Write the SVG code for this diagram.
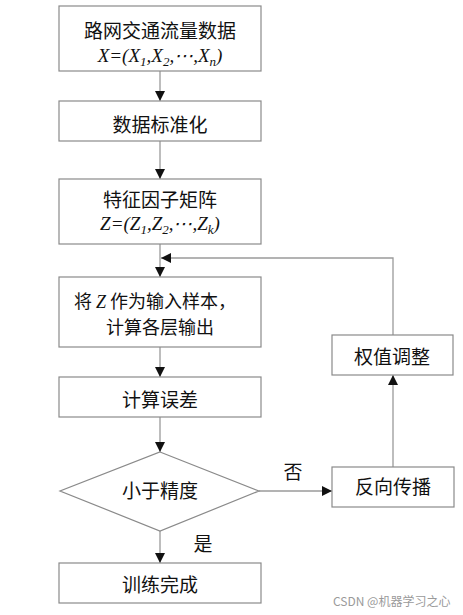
<svg xmlns="http://www.w3.org/2000/svg" width="463" height="615" viewBox="0 0 463 615">
<defs>
<marker id="ah" viewBox="0 0 10 10" refX="10" refY="5" markerWidth="10" markerHeight="10" markerUnits="userSpaceOnUse" orient="auto">
<path d="M0,0 L10,5 L0,10 z" fill="#111"/>
</marker>
<style>
.box{fill:#fff;stroke:#8a8a8a;stroke-width:1.2}
.t{font-family:"Noto Sans CJK SC","Liberation Serif",serif;font-size:19px;fill:#111;text-anchor:middle}
.s18{font-size:18px}
.m{font-family:"Liberation Serif",serif;font-style:italic;font-size:19px;fill:#111;text-anchor:middle}
.sub{font-size:13px}
.c{fill:none;stroke:#9a9a9a;stroke-width:1.3}
.wm{font-family:"Noto Sans CJK SC","Liberation Sans",sans-serif;font-size:12px;fill:#9a9a9a}
</style>
</defs>
<rect width="463" height="615" fill="#fff"/>
<g id="connectors">
<line class="c" x1="160" y1="71" x2="160" y2="101" marker-end="url(#ah)"/>
<line class="c" x1="160" y1="141" x2="160" y2="179" marker-end="url(#ah)"/>
<line class="c" x1="160" y1="244" x2="160" y2="277" marker-end="url(#ah)"/>
<line class="c" x1="160" y1="347" x2="160" y2="377" marker-end="url(#ah)"/>
<line class="c" x1="160" y1="417" x2="160" y2="452" marker-end="url(#ah)"/>
<line class="c" x1="160" y1="531" x2="160" y2="563" marker-end="url(#ah)"/>
<line class="c" x1="259" y1="491" x2="332" y2="491" marker-end="url(#ah)"/>
<line class="c" x1="393" y1="467" x2="393" y2="375" marker-end="url(#ah)"/>
<polyline class="c" points="393,335 393,258 161,258" marker-end="url(#ah)"/>
<text class="t" x="293" y="479">否</text>
<text class="t" x="203" y="551">是</text>
</g>
<g id="n1">
<rect class="box" x="59" y="6" width="202" height="65"/>
<text class="t" x="160" y="38">路网交通流量数据</text>
<text class="m" x="160" y="62">X=(X<tspan class="sub" dy="4">1</tspan><tspan dy="-4">,X</tspan><tspan class="sub" dy="4">2</tspan><tspan dy="-4">,⋯,X</tspan><tspan class="sub" dy="4">n</tspan><tspan dy="-4">)</tspan></text>
</g>
<g id="n2">
<rect class="box" x="59" y="101" width="202" height="40"/>
<text class="t" x="160" y="132">数据标准化</text>
</g>
<g id="n3">
<rect class="box" x="59" y="179" width="202" height="65"/>
<text class="t" x="160" y="207">特征因子矩阵</text>
<text class="m" x="160" y="230">Z=(Z<tspan class="sub" dy="4">1</tspan><tspan dy="-4">,Z</tspan><tspan class="sub" dy="4">2</tspan><tspan dy="-4">,⋯,Z</tspan><tspan class="sub" dy="4">k</tspan><tspan dy="-4">)</tspan></text>
</g>
<g id="n4">
<rect class="box" x="59" y="277" width="202" height="70"/>
<text class="t s18" x="155" y="308">将 <tspan font-family="Liberation Serif" font-style="italic">Z</tspan> 作为输入样本，</text>
<text class="t s18" x="160" y="334">计算各层输出</text>
</g>
<g id="n5">
<rect class="box" x="59" y="377" width="202" height="40"/>
<text class="t" x="160" y="407">计算误差</text>
</g>
<g id="n6">
<polygon class="box" points="160,452 259,491 160,531 60,491"/>
<text class="t" x="160" y="498">小于精度</text>
</g>
<g id="n7">
<rect class="box" x="59" y="563" width="202" height="40"/>
<text class="t" x="160" y="592">训练完成</text>
</g>
<g id="n8">
<rect class="box" x="332" y="467" width="122" height="40"/>
<text class="t" x="393" y="494">反向传播</text>
</g>
<g id="n9">
<rect class="box" x="332" y="335" width="121" height="40"/>
<text class="t" x="392" y="364">权值调整</text>
</g>
<text class="wm" x="333" y="606">CSDN @机器学习之心</text>
</svg>
